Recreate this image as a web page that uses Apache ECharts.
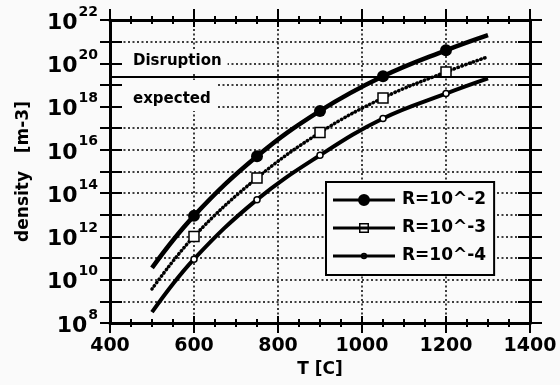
<!DOCTYPE html>
<html>
<head>
<meta charset="utf-8">
<script src="https://cdn.jsdelivr.net/npm/echarts@6.0.0/dist/echarts.min.js"></script>
<style>
  html, body { margin: 0; padding: 0; background: #fafafa; }
  #chart { width: 560px; height: 385px; }
</style>
</head>
<body>
<div id="chart"></div>
<script>
// temperatures [C] and log10 of density [m-3]
const temps = [500, 600, 750, 900, 1050, 1200, 1300];
const logDensR2 = [10.55, 12.95, 15.7, 17.8, 19.4, 20.6, 21.3];
const logDensR3 = [9.57, 12.0, 14.7, 16.8, 18.4, 19.6, 20.3];
const logDensR4 = [8.5, 10.95, 13.7, 15.75, 17.45, 18.6, 19.3];
const seriesNames = ['R=10^-2', 'R=10^-3', 'R=10^-4'];
const disruptionLevel = 19.4; // log10 density of the "disruption" line
const annotations = ['Disruption', 'expected'];

const F = 'DejaVu Sans';
const BG = '#fafafa';

// markers only on the inner points, not on the curve ends
function toData(vals) {
  return temps.map(function (t, i) {
    var item = {value: [t, vals[i]]};
    if (i === 0 || i === temps.length - 1) {
      item.symbol = 'none';
    }
    return item;
  });
}

// legend icons: line + marker, drawn in a 62x14 box
const iconR2 = 'path://M0,5.5L62,5.5L62,8.5L0,8.5Z M25,7A6,6 0 1,1 37,7A6,6 0 1,1 25,7Z';
const iconR3 = 'path://M0,5.5L62,5.5L62,8.5L0,8.5Z M26,2L36,2L36,12L26,12Z M27.5,3.5L27.5,10.5L34.5,10.5L34.5,3.5Z';
const iconR4 = 'path://M0,5.5L62,5.5L62,8.5L0,8.5Z M27.8,7A3.2,3.2 0 1,1 34.2,7A3.2,3.2 0 1,1 27.8,7Z M29.2,7A1.8,1.8 0 1,0 32.8,7A1.8,1.8 0 1,0 29.2,7Z';

const gridLine = {show: true, lineStyle: {color: '#000', width: 1.5, type: [2, 2.5]}};
const blackLine = {color: '#000', width: 3};

function xAx(pos, inside, len, withLine, withLabel) {
  return {
    type: 'value', position: pos, min: 400, max: 1400, interval: 200,
    axisLine: {show: withLine, onZero: false, lineStyle: blackLine},
    axisTick: {show: true, inside: inside, length: len, lineStyle: {color: '#000', width: 2}},
    minorTick: {show: true, splitNumber: 4, length: 4, lineStyle: {color: '#000', width: 2}},
    splitLine: withLabel ? gridLine : {show: false},
    axisLabel: withLabel ? {
      show: true, margin: 14, fontFamily: F, fontSize: 19, fontWeight: 'bold', color: '#000',
      formatter: function (v) { return String(v); }
    } : {show: false},
    name: withLabel ? 'T [C]' : '',
    nameLocation: 'middle', nameGap: 37,
    nameTextStyle: {fontFamily: F, fontSize: 17, fontWeight: 'bold', color: '#000'}
  };
}

function yAx(pos, inside, len, withLine, withLabel) {
  return {
    type: 'value', position: pos, min: 8, max: 22, interval: 1,
    axisLine: {show: withLine, onZero: false, lineStyle: blackLine},
    axisTick: {show: true, inside: inside, length: len, lineStyle: {color: '#000', width: 2}},
    splitLine: withLabel ? gridLine : {show: false},
    axisLabel: withLabel ? {
      show: true, margin: 12, showMinLabel: true, showMaxLabel: true,
      formatter: function (v) { return v % 2 === 0 ? '{b|10}{s|' + v + '}' : ''; },
      rich: {
        b: {fontFamily: F, fontSize: 22, fontWeight: 'bold', color: '#000', padding: [7, 0, 1, 0]},
        s: {fontFamily: F, fontSize: 14, fontWeight: 'bold', color: '#000', verticalAlign: 'top', padding: [0, 0, 0, 1]}
      }
    } : {show: false},
    name: withLabel ? 'density   [m-3]' : '',
    nameLocation: 'middle', nameGap: 78,
    nameTextStyle: {fontFamily: F, fontSize: 17, fontWeight: 'bold', color: '#000'}
  };
}

var chart = echarts.init(document.getElementById('chart'), null, {renderer: 'canvas'});
var option = {
  backgroundColor: BG,
  animation: false,
  grid: {left: 110, right: 30, top: 20, bottom: 62},
  xAxis: [
    xAx('bottom', false, 10, true, true),
    xAx('bottom', true, 7, false, false),
    xAx('top', false, 11, true, false),
    xAx('top', true, 7, false, false)
  ],
  yAxis: [
    yAx('left', false, 10, true, true),
    yAx('left', true, 12, false, false),
    yAx('right', false, 12, true, false),
    yAx('right', true, 12, false, false)
  ],
  legend: {
    orient: 'vertical', align: 'left',
    left: 326, top: 182,
    padding: [9, 8, 10, 7],
    borderColor: '#000', borderWidth: 2, backgroundColor: BG,
    itemWidth: 62, itemHeight: 14, itemGap: 10,
    symbolKeepAspect: true,
    textStyle: {fontFamily: F, fontSize: 17, fontWeight: 'bold', lineHeight: 18, color: '#000', padding: [0, 0, 0, 2]},
    data: [
      {name: seriesNames[0], icon: iconR2, itemStyle: {color: '#000', borderWidth: 0}},
      {name: seriesNames[1], icon: iconR3, itemStyle: {color: '#000', borderWidth: 0}},
      {name: seriesNames[2], icon: iconR4, itemStyle: {color: '#000', borderWidth: 0}}
    ]
  },
  graphic: [
    {
      type: 'text', x: 123, y: 51, z: 1,
      style: {
        text: annotations[0], fontFamily: F, fontSize: 15, fontWeight: 'bold', fill: '#000',
        backgroundColor: BG, padding: [3, 6, 3, 10]
      }
    },
    {
      type: 'text', x: 123, y: 80, z: 1,
      style: {
        text: annotations[1], fontFamily: F, fontSize: 15, fontWeight: 'bold', fill: '#000',
        backgroundColor: BG, padding: [12, 6, 4, 10]
      }
    }
  ],
  series: [
    {
      name: seriesNames[0], type: 'line', smooth: 0.4,
      data: toData(logDensR2),
      symbol: 'circle', symbolSize: 12,
      lineStyle: {color: '#000', width: 4.5},
      itemStyle: {color: '#000'},
      markLine: {
        silent: true, symbol: ['none', 'none'],
        label: {show: false},
        lineStyle: {color: '#000', width: 2, type: 'solid'},
        data: [{yAxis: disruptionLevel}]
      }
    },
    {
      name: seriesNames[1], type: 'line', smooth: 0.4,
      data: toData(logDensR3),
      symbol: 'rect', symbolSize: 10,
      lineStyle: {color: '#000', width: 3.5, type: [0.5, 3.5], cap: 'round'},
      itemStyle: {color: '#fff', borderColor: '#000', borderWidth: 1.5}
    },
    {
      name: seriesNames[2], type: 'line', smooth: 0.4,
      data: toData(logDensR4),
      symbol: 'circle', symbolSize: 6,
      lineStyle: {color: '#000', width: 4},
      itemStyle: {color: '#fff', borderColor: '#000', borderWidth: 1.5}
    }
  ]
};
chart.setOption(option);
</script>
</body>
</html>
